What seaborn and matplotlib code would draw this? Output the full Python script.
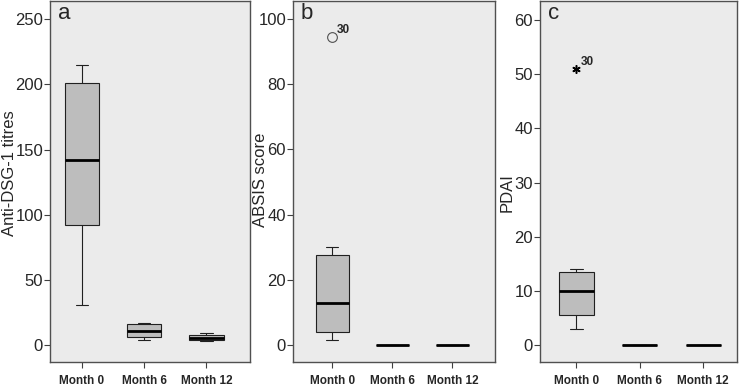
import numpy as np
import pandas as pd
import seaborn as sns
import matplotlib.pyplot as plt

# data: values chosen so the boxes show the quartiles
months = ["Month 0", "Month 6", "Month 12"]

dsg1_m0 = [31, 92, 142, 201, 215]
dsg1_m6 = [4, 6, 11, 16, 17]
dsg1_m12 = [3, 4, 5.5, 8, 9]

absis_m0 = [1.5, 3, 4, 8, 13, 20, 27.5, 30, 94.5]
absis_m6 = [0, 0, 0, 0, 0]
absis_m12 = [0, 0, 0, 0, 0]

pdai_m0 = [3, 4, 5.5, 8, 10, 12, 13.5, 14, 51]
pdai_m6 = [0, 0, 0, 0, 0]
pdai_m12 = [0, 0, 0, 0, 0]

outlier_case = "30"

panels = [
    ("a", "Anti-DSG-1 titres", [dsg1_m0, dsg1_m6, dsg1_m12], (-13, 264), [0, 50, 100, 150, 200, 250], (-0.51, 2.70)),
    ("b", "ABSIS score", [absis_m0, absis_m6, absis_m12], (-5.2, 105.5), [0, 20, 40, 60, 80, 100], (-0.655, 2.71)),
    ("c", "PDAI", [pdai_m0, pdai_m6, pdai_m12], (-3.1, 63.5), [0, 10, 20, 30, 40, 50, 60], (-0.57, 2.53)),
]


def to_long(groups):
    frames = []
    for m, vals in zip(months, groups):
        frames.append(pd.DataFrame({"month": m, "value": vals}))
    return pd.concat(frames, ignore_index=True)


sns.set_style("white")
plt.rcParams['font.family'] = ['Liberation Sans', 'DejaVu Sans']

fig = plt.figure(figsize=(7.4, 3.85), dpi=100)
positions = [
    [0.0676, 0.0597, 0.2703, 0.9377],
    [0.3959, 0.0597, 0.2730, 0.9377],
    [0.7297, 0.0597, 0.2662, 0.9377],
]
label_xy = [(-0.165, 0.523), (-0.124, 0.504), (-0.127, 0.47)]

for i, (letter, ylabel, groups, ylim, yticks, xlim) in enumerate(panels):
    ax = fig.add_axes(positions[i])
    df = to_long(groups)

    if i == 2:
        flier = dict(marker=(6, 2, 0), markersize=6, markeredgecolor="black",
                     markeredgewidth=1.1, markerfacecolor="black")
    else:
        flier = dict(marker="o", markersize=7, markeredgecolor="#505050",
                     markeredgewidth=0.8, markerfacecolor="none")

    sns.boxplot(data=df, x="month", y="value", order=months, ax=ax,
                color="#BDBDBD", saturation=1, width=0.55,
                linecolor="#202020", linewidth=0.8,
                whis=1.5, capwidths=0.2,
                medianprops=dict(color="black", linewidth=2),
                flierprops=flier)

    # label the outlying case
    if i > 0:
        ax.annotate(outlier_case, xy=(0, max(groups[0])), xytext=(3, 3),
                    textcoords="offset points", fontsize=8.5, fontweight="bold")

    ax.set_facecolor("#EBEBEB")
    ax.set_xlim(*xlim)
    ax.set_ylim(*ylim)
    ax.set_yticks(yticks)
    ax.set_xlabel("")
    ax.set_ylabel(ylabel, fontsize=12)
    ax.yaxis.set_label_coords(*label_xy[i])
    ax.tick_params(axis="y", labelsize=12, length=4, width=0.8, color="#404040",
                   direction="out", left=True, pad=1)
    ax.tick_params(axis="x", length=4, width=0.8, color="#404040",
                   direction="out", bottom=True, pad=5)
    for lab in ax.get_xticklabels():
        lab.set_fontweight("bold")
        lab.set_fontsize(8.5)
    for s in ax.spines.values():
        s.set_color("#505050")
        s.set_linewidth(1)
    ax.text(0.04, 0.995, letter, transform=ax.transAxes, fontsize=16,
            va="top", ha="left")

fig.savefig("out.png", dpi=100)
